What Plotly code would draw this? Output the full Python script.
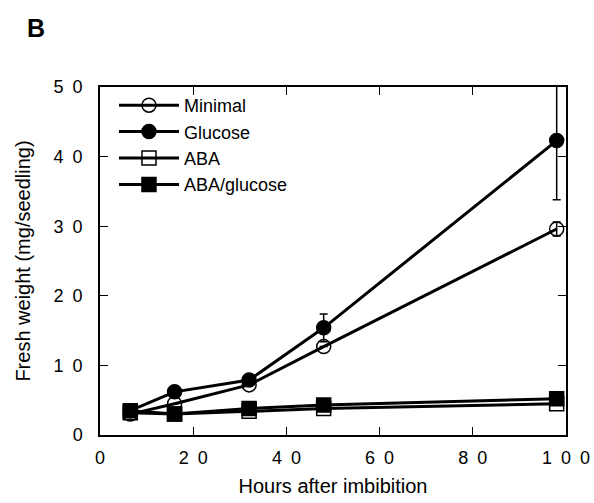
import plotly.graph_objects as go

hours = [6.5, 16, 32, 48, 98]
minimal = [3.0, 4.5, 7.2, 12.7, 29.6]
minimal_err = [0, 0, 0, 0, 1.0]
glucose = [3.5, 6.2, 7.9, 15.4, 42.3]
glucose_err = [0, 0, 0, 2.0, 8.5]
aba = [3.2, 3.0, 3.4, 3.8, 4.5]
aba_glucose = [3.5, 3.0, 3.8, 4.3, 5.2]

SP = "\u2002"
xtick_vals = [0, 20, 40, 60, 80, 100]
xtick_text = ["0", "2" + SP + "0", "4" + SP + "0", "6" + SP + "0", "8" + SP + "0", "1" + SP + "0" + SP + "0"]
ytick_vals = [0, 10, 20, 30, 40, 50]
ytick_text = ["0", "1" + SP + "0", "2" + SP + "0", "3" + SP + "0", "4" + SP + "0", "5" + SP + "0"]

FONT = "Liberation Sans, Arial, sans-serif"

fig = go.Figure()

def add(name, y, symbol, rank, err=None):
    kw = {}
    if err is not None:
        kw["error_y"] = dict(type="data", array=err, visible=True, color="black",
                             thickness=1.5, width=4)
    fig.add_trace(go.Scatter(
        x=hours, y=y, name=name, mode="lines+markers", legendrank=rank,
        line=dict(color="black", width=3),
        marker=dict(symbol=symbol, size=14, color="black",
                    line=dict(color="black", width=1.5)),
        **kw))

add("ABA", aba, "square-open", 3)
add("ABA/glucose", aba_glucose, "square", 4)
add("Minimal", minimal, "circle-open", 1, minimal_err)
add("Glucose", glucose, "circle", 2, glucose_err)

axis_common = dict(showline=True, linecolor="black", linewidth=1.5, mirror="ticks",
                   ticks="inside", ticklen=8, tickwidth=1, tickcolor="black",
                   showgrid=False, zeroline=False, automargin=False,
                   tickfont=dict(family=FONT, size=18, color="black"))

fig.update_xaxes(range=[0, 100], tickvals=xtick_vals, ticktext=xtick_text,
                 ticklabelstandoff=6,
                 title=dict(text="Hours after imbibition", font=dict(family=FONT, size=20, color="black"),
                            standoff=12),
                 **axis_common)
fig.update_yaxes(range=[0, 50], tickvals=ytick_vals, ticktext=ytick_text,
                 ticklabelstandoff=12,
                 title=dict(text="Fresh weight (mg/seedling)", font=dict(family=FONT, size=20, color="black"),
                            standoff=18),
                 **axis_common)

fig.add_annotation(text="<b>B</b>", xref="paper", yref="paper", x=-0.16, y=1.215,
                   showarrow=False, font=dict(family=FONT, size=25, color="black"),
                   xanchor="left", yanchor="top")

fig.update_layout(
    width=594, height=503,
    margin=dict(l=100, r=28, t=87, b=68),
    plot_bgcolor="white", paper_bgcolor="white",
    showlegend=True,
    legend=dict(x=0.03, y=1.0, xanchor="left", yanchor="top",
                bgcolor="rgba(0,0,0,0)", font=dict(family=FONT, size=18, color="black"),
                itemwidth=60, tracegroupgap=0),
)

fig.write_html("out.html")
